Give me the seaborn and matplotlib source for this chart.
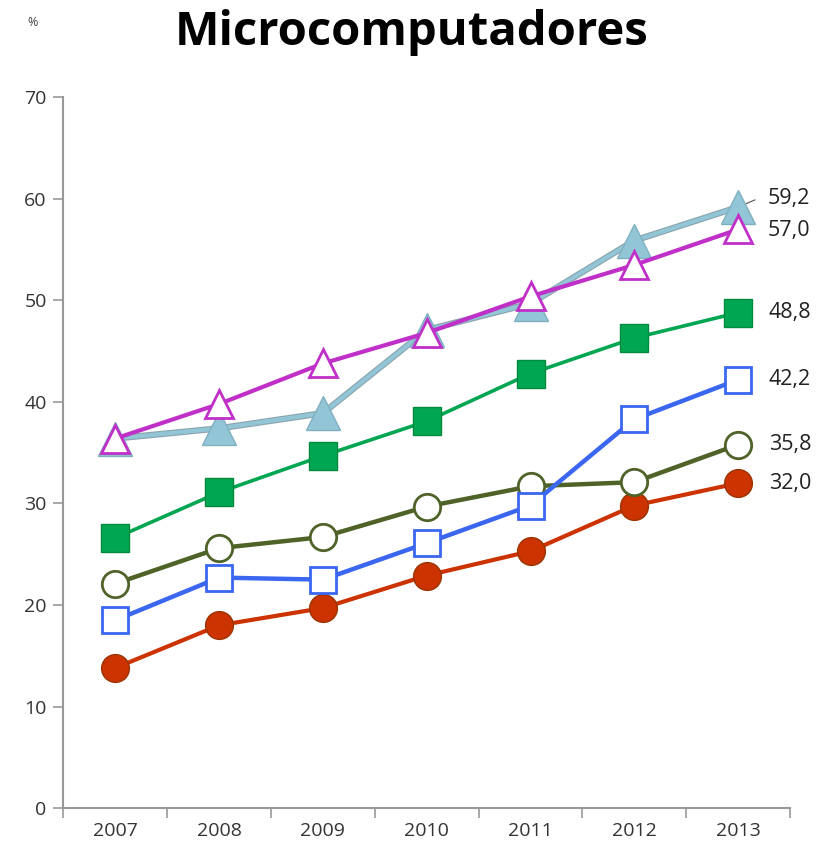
import numpy as np
import pandas as pd
import matplotlib
matplotlib.use("Agg")
import matplotlib.pyplot as plt
import seaborn as sns

# --- Data ---
years = ["2007", "2008", "2009", "2010", "2011", "2012", "2013"]
red_circle = [13.8, 18.0, 19.7, 22.9, 25.3, 29.8, 32.0]
blue_square = [18.5, 22.7, 22.5, 26.1, 29.8, 38.3, 42.2]
olive_circle = [22.1, 25.6, 26.7, 29.7, 31.7, 32.1, 35.8]
green_square = [26.6, 31.1, 34.7, 38.1, 42.8, 46.3, 48.8]
lightblue_tri = [36.4, 37.4, 38.9, 47.1, 49.7, 55.9, 59.2]
magenta_tri = [36.4, 39.8, 43.8, 46.8, 50.4, 53.5, 57.0]
end_labels = ["32,0", "42,2", "35,8", "48,8", "59,2", "57,0"]

series = {
    "red": red_circle,
    "blue": blue_square,
    "olive": olive_circle,
    "green": green_square,
    "lightblue": lightblue_tri,
    "magenta": magenta_tri,
}

frames = []
for name, vals in series.items():
    frames.append(pd.DataFrame({"year": years, "value": vals, "serie": name,
                                "pos": np.arange(len(years))}))
df = pd.concat(frames, ignore_index=True)

# --- Styles ---
styles = {
    "red":       dict(color="#cc3300", marker="o", mfc="#cc3300", mec="#993300", ms=20, lw=3.0),
    "blue":      dict(color="#3a66f0", marker="s", mfc="white", mec="#3a66f0", ms=19, lw=3.2),
    "olive":     dict(color="#4f6228", marker="o", mfc="white", mec="#4f6228", ms=19, lw=3.2),
    "green":     dict(color="#00a651", marker="s", mfc="#00a651", mec="#008a40", ms=20, lw=2.6),
    "lightblue": dict(color="#92c5d6", marker="^", mfc="#92c5d6", mec="#7fb0c0", ms=24, lw=3.0),
    "magenta":   dict(color="#c02fc8", marker="^", mfc="white", mec="#c02fc8", ms=20, lw=3.0),
}
label_offsets = {"red": (22, 0), "blue": (22, 0), "olive": (22, 0),
                 "green": (22, 0), "lightblue": (21, 6), "magenta": (21, -1)}

sns.set_style("white")
plt.rcParams["font.family"] = ["Open Sans", "DejaVu Sans"]

fig = plt.figure(figsize=(8.23, 8.51), dpi=100)
ax = fig.add_axes([0.077, 0.0505, 0.883, 0.835])

order = ["red", "olive", "blue", "green", "lightblue", "magenta"]
for z, name in enumerate(order):
    st = styles[name]
    sub = df[df["serie"] == name]
    if name == "lightblue":
        # grey outline under the light blue line
        ax.plot(sub["pos"], sub["value"], color="#8aa4ad", lw=st["lw"] + 1.6,
                zorder=2 + z * 2, solid_capstyle="round")
    sns.lineplot(data=sub, x="pos", y="value", ax=ax, color=st["color"],
                 linewidth=st["lw"], marker=st["marker"], markersize=st["ms"],
                 markerfacecolor=st["mfc"], markeredgecolor=st["mec"],
                 markeredgewidth=2 if st["mfc"] == "white" else 1,
                 zorder=3 + z * 2, legend=False, errorbar=None)

# end labels
for name, lab in zip(series.keys(), end_labels):
    last = series[name][-1]
    dx, dy = label_offsets[name]
    ax.annotate(lab, xy=(len(years) - 1, last), xytext=(dx, dy),
                textcoords="offset points", va="center", ha="left",
                fontsize=15.5, color="#222222")
# leader line for 59,2
ax.annotate("", xy=(len(years) - 1, lightblue_tri[-1]), xytext=(14, 6),
            textcoords="offset points",
            arrowprops=dict(arrowstyle="-", color="#555555", lw=0.8))

ax.set_xlim(-0.5, len(years) - 0.5)
ax.set_ylim(0, 70)
ax.set_yticks(np.arange(0, 71, 10))
ax.set_xticks(np.arange(len(years)))
ax.set_xticklabels(years)
ax.set_xticks(np.arange(len(years) + 1) - 0.5, minor=True)
ax.tick_params(axis="x", which="major", bottom=True, length=0, labelsize=14,
               colors="#333333", pad=10)
ax.tick_params(axis="x", which="minor", bottom=True, length=7, width=1.2,
               color="#999999", direction="out")
ax.tick_params(axis="y", left=True, length=7, width=1.2, color="#999999",
               labelsize=14, labelcolor="#333333", direction="out", pad=5)
ax.set_xlabel("")
ax.set_ylabel("")
for s in ["top", "right"]:
    ax.spines[s].set_visible(False)
for s in ["left", "bottom"]:
    ax.spines[s].set_color("#999999")
    ax.spines[s].set_linewidth(1.5)

fig.text(0.5, 0.962, "Microcomputadores", ha="center", va="center",
         fontsize=34, fontweight="bold", color="black")
fig.text(0.04, 0.973, "%", ha="center", va="center", fontsize=9, color="#444444")

fig.savefig("out.png", dpi=100)
